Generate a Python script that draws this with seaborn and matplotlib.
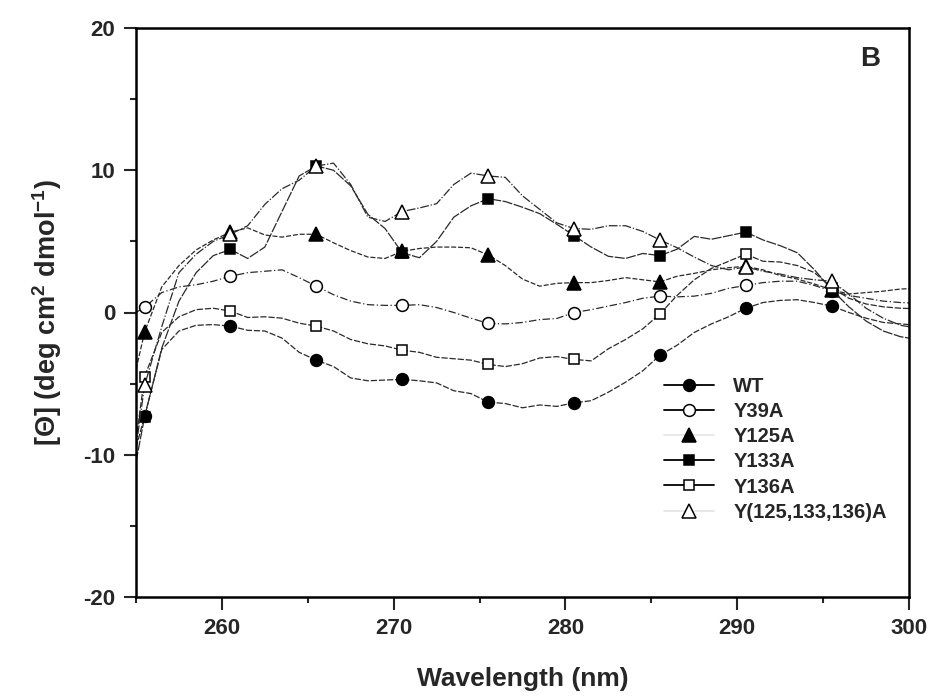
import numpy as np
import pandas as pd
import matplotlib
matplotlib.use('Agg')
import matplotlib.pyplot as plt
from matplotlib.lines import Line2D
import seaborn as sns

# wavelength grid (nm); markers sit every 5 nm from 255.5
wavelength = [255.0, 255.5, 256.5, 257.5, 258.5, 259.5, 260.5,
              261.5, 262.5, 263.5, 264.5, 265.5,
              266.5, 267.5, 268.5, 269.5, 270.5,
              271.5, 272.5, 273.5, 274.5, 275.5,
              276.5, 277.5, 278.5, 279.5, 280.5,
              281.5, 282.5, 283.5, 284.5, 285.5,
              286.5, 287.5, 288.5, 289.5, 290.5,
              291.5, 292.5, 293.5, 294.5, 295.5,
              296.5, 297.5, 298.5, 299.5, 300.5]

wt = [-9.5, -7.3, -2.6, -1.3, -0.9, -0.85, -0.96,
      -1.25, -1.3, -1.8, -2.8, -3.35,
      -3.8, -4.6, -4.8, -4.75, -4.7,
      -4.8, -4.95, -5.5, -5.7, -6.3,
      -6.4, -6.7, -6.5, -6.6, -6.35,
      -6.2, -5.6, -4.9, -4.1, -3.0,
      -2.3, -1.4, -0.8, -0.3, 0.3,
      0.7, 0.85, 0.9, 0.7, 0.45,
      0.0, -0.4, -0.7, -0.8, -0.9]

y39a = [0.0, 0.37, 1.4, 1.8, 1.95, 2.2, 2.55,
        2.8, 2.9, 3.0, 2.45, 1.85,
        1.25, 0.8, 0.55, 0.5, 0.5,
        0.55, 0.35, 0.0, -0.4, -0.77,
        -0.8, -0.7, -0.5, -0.42, 0.0,
        0.2, 0.45, 0.7, 1.0, 1.15,
        1.1, 1.15, 1.35, 1.7, 1.9,
        2.1, 2.2, 2.2, 1.9, 1.5,
        1.2, 1.0, 0.8, 0.7, 0.65]

y125a = [-4.0, -1.38, 1.8, 3.3, 4.4, 5.1, 5.65,
         5.95, 5.45, 5.3, 5.5, 5.5,
         4.9, 4.35, 3.9, 3.8, 4.3,
         4.5, 4.6, 4.6, 4.55, 4.05,
         3.3, 2.35, 1.85, 2.05, 2.1,
         2.1, 2.25, 2.45, 2.3, 2.15,
         2.55, 2.75, 3.0, 3.15, 3.25,
         3.0, 2.6, 2.35, 2.0, 1.6,
         1.3, 1.4, 1.5, 1.65, 1.7]

y133a = [-10.5, -7.34, -2.5, 0.8, 2.8, 4.0, 4.43,
         3.8, 4.6, 7.1, 9.6, 10.3,
         10.0, 8.9, 6.9, 5.9, 4.2,
         3.85, 5.0, 6.7, 7.5, 8.0,
         7.8, 7.4, 6.95, 6.2, 5.4,
         4.6, 3.95, 3.8, 4.15, 4.0,
         4.45, 5.35, 5.15, 5.4, 5.65,
         5.1, 4.7, 4.2, 3.0, 1.6,
         0.4, -0.6, -1.3, -1.7, -1.9]

y136a = [-9.0, -4.5, -1.4, -0.3, 0.2, 0.3, 0.1,
         -0.35, -0.3, -0.4, -0.75, -0.96,
         -1.3, -1.9, -2.2, -2.35, -2.65,
         -2.8, -3.15, -3.25, -3.35, -3.65,
         -3.8, -3.6, -3.2, -3.1, -3.3,
         -3.4, -2.55, -1.9, -1.15, -0.1,
         1.2, 2.3, 3.1, 3.6, 4.1,
         3.6, 3.55, 3.3, 2.8, 1.75,
         1.0, 0.6, 0.4, 0.3, 0.26]

y_triple = [-9.5, -5.13, -1.0, 2.8, 4.1, 5.0, 5.5,
            6.1, 7.6, 8.7, 9.3, 10.3,
            10.5, 9.0, 6.7, 6.4, 7.1,
            7.35, 7.65, 9.0, 9.8, 9.6,
            9.5, 8.2, 7.25, 6.3, 5.9,
            5.85, 6.1, 6.1, 5.7, 5.1,
            4.55, 3.9, 3.3, 3.0, 3.2,
            2.9, 2.7, 2.45, 2.3, 2.2,
            1.3, 0.3, -0.4, -0.9, -1.1]

labels = ['WT', 'Y39A', 'Y125A', 'Y133A', 'Y136A', 'Y(125,133,136)A']
series = [wt, y39a, y125a, y133a, y136a, y_triple]

# marker, face colour, marker size, dash pattern, legend line colour
styles = [
    ('o', 'black', 8.5, (5, 1.5), 'black'),
    ('o', 'white', 8.5, (6, 2, 1, 2), 'black'),
    ('^', 'black', 9.5, (4, 1.5), '#e6e6e6'),
    ('s', 'black', 7.5, (8, 1.2), 'black'),
    ('s', 'white', 7.5, (5, 1.5), 'black'),
    ('^', 'white', 9.5, (7, 1.5, 1, 1.5), '#e6e6e6'),
]

df = pd.DataFrame({'wavelength': wavelength})
for lab, vals in zip(labels, series):
    df[lab] = vals

sns.set_style('ticks')
plt.rcParams['font.family'] = ['Liberation Sans', 'DejaVu Sans']
plt.rcParams['font.weight'] = 'bold'
plt.rcParams['axes.labelweight'] = 'bold'
plt.rcParams['axes.unicode_minus'] = False
plt.rcParams['mathtext.fontset'] = 'custom'
plt.rcParams['mathtext.rm'] = 'Liberation Sans:bold'
plt.rcParams['mathtext.bf'] = 'Liberation Sans:bold'
plt.rcParams['mathtext.it'] = 'Liberation Sans:bold'

fig = plt.figure(figsize=(9.38, 6.96), dpi=100)
ax = fig.add_axes([136 / 938, 1 - 597 / 696, (909 - 136) / 938, (597 - 28) / 696])

for lab, (mk, fc, ms, dash, _) in zip(labels, styles):
    sns.lineplot(data=df, x='wavelength', y=lab, ax=ax, sort=False, errorbar=None,
                 color='#2a2a2a', linewidth=0.9, linestyle=(0, dash),
                 marker=mk, markersize=ms, markerfacecolor=fc,
                 markeredgecolor='black', markeredgewidth=1.1,
                 markevery=slice(1, None, 5), legend=False)

ax.set_xlim(255, 300)
ax.set_ylim(-20, 20)
ax.set_xticks([260, 270, 280, 290, 300])
ax.set_xticks([255, 265, 275, 285, 295], minor=True)
ax.set_yticks([-20, -10, 0, 10, 20])
ax.set_yticks([-15, -5, 5, 15], minor=True)
ax.tick_params(which='major', direction='out', length=9, width=1.5, labelsize=16, pad=6)
ax.tick_params(which='minor', direction='out', length=4.5, width=1.5)
for sp in ax.spines.values():
    sp.set_linewidth(1.8)
    sp.set_color('black')
    sp.set_visible(True)

ax.set_xlabel('Wavelength (nm)', fontsize=19, labelpad=20)
ax.set_ylabel(r'[Θ] (deg cm$^{2}$ dmol$^{-1}$)', fontsize=19.5, labelpad=14)
ax.text(0.9496, 0.9455, 'B', transform=ax.transAxes, fontsize=20, fontweight='bold',
        ha='center', va='center')

handles = []
for lab, (mk, fc, ms, dash, lc) in zip(labels, styles):
    handles.append(Line2D([0], [0], color=lc, linewidth=1.3, marker=mk, markersize=ms,
                          markerfacecolor=fc, markeredgecolor='black', markeredgewidth=1.1))
ax.legend(handles, labels, loc='upper left', bbox_to_anchor=(0.683, 0.386), frameon=False,
          fontsize=14.5, handlelength=2.5, handletextpad=0.95, labelspacing=0.3,
          borderpad=0, borderaxespad=0)

fig.savefig('out.png', dpi=100)
